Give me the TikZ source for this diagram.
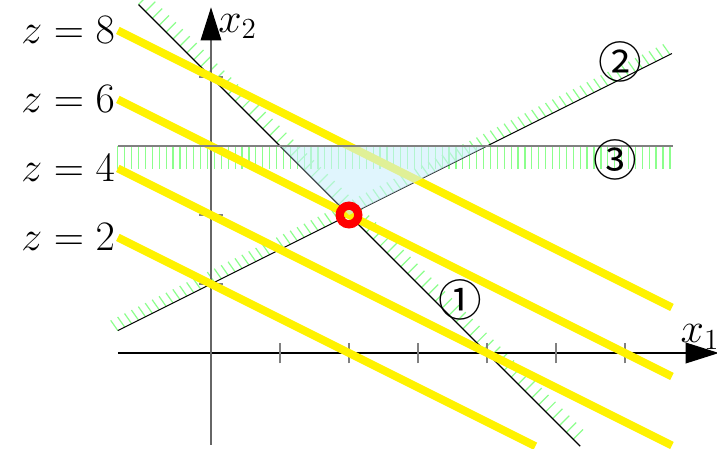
\documentclass[tikz,border=0pt]{standalone}
\usepackage{fontspec}
\newfontfamily\symfont{Noto Sans CJK JP}
\usetikzlibrary{arrows.meta}
\begin{document}
\begin{tikzpicture}[
  hatch/.style={draw=green!45, line width=0.5pt},
  bound/.style={draw=black, line width=0.45pt},
  objline/.style={draw=yellow, line width=3.3pt},
  axis/.style={line width=0.5pt, -{Triangle[length=0.48cm,width=0.3cm,color=black]}},
  tick/.style={draw=gray, line width=0.6pt},
  zlabel/.style={anchor=east, inner sep=1pt, font=\fontsize{16.5}{19}\selectfont},
  axlabel/.style={anchor=base west, inner sep=0pt, font=\fontsize{17}{20}\selectfont},
  circnum/.style={font=\symfont\fontsize{18}{20}\selectfont, inner sep=0pt}
]
\useasboundingbox (-3.058,-1.377) rectangle (7.333,5.116);
% hatching
\foreach \t in {-1.05,-0.95,...,5.35} { \draw[hatch] (\t,4-\t) -- ++(45:0.2); }
\foreach \t in {-1.35,-1.25,...,6.68} { \draw[hatch] (\t,0.5*\t+1) -- ++(125:0.18); }
\foreach \t in {-1.35,-1.25,...,6.7} { \draw[hatch] (\t,3) -- ++(0,-0.33); }
% constraint lines
\coordinate (c1a) at (-1.05,5.05);
\coordinate (c1b) at (5.35,-1.35);
\coordinate (c2a) at (-1.35,0.325);
\coordinate (c2b) at (6.68,4.34);
\coordinate (c3a) at (-1.35,3);
\coordinate (c3b) at (6.7,3);
\draw[bound] (c1a) -- (c1b);
\draw[bound] (c2a) -- (c2b);
% axes
\coordinate (xa) at (-1.35,0);
\coordinate (xb) at (7.36,0);
\coordinate (ya) at (0,-1.33);
\coordinate (yb) at (0,5.01);
\draw[axis, draw=black] (xa) -- (xb);
\draw[axis, draw=black!60] (ya) -- (yb);
\foreach \i in {1,...,6} { \draw[tick] (\i,-0.15) -- (\i,0.15); }
\foreach \j in {1,...,4} { \draw[tick] (-0.17,\j) -- (0.17,\j); }
\node[axlabel] (lx1) at (6.8,0.145) {$x_1$};
\node[axlabel] (lx2) at (0.1,4.652) {$x_2$};
% objective lines
\coordinate (z2a) at (-1.35,1.675); \coordinate (z2b) at (4.7,-1.35);
\coordinate (z4a) at (-1.35,2.675); \coordinate (z4b) at (6.68,-1.34);
\coordinate (z6a) at (-1.35,3.675); \coordinate (z6b) at (6.68,-0.34);
\coordinate (z8a) at (-1.35,4.675); \coordinate (z8b) at (6.68,0.66);
\draw[objline] (z2a) -- (z2b);
\draw[objline] (z4a) -- (z4b);
\draw[objline] (z6a) -- (z6b);
\draw[objline] (z8a) -- (z8b);
\node[zlabel] (l2) at (z2a) {$z=2$};
\node[zlabel] (l4) at (z4a) {$z=4$};
\node[zlabel] (l6) at (z6a) {$z=6$};
\node[zlabel] (l8) at (z8a) {$z=8$};
% feasible region
\fill[cyan!20, opacity=0.6] (1,3) -- (4,3) -- (2,2) -- cycle;
\draw[draw=gray, line width=0.9pt] (c3a) -- (c3b);
% optimum
\coordinate (opt) at (2,2);
\draw[red, line width=3.4pt] (opt) circle (0.135);
% labels
\node[circnum] (n1) at (3.61,0.77) {①};
\node[circnum] (n2) at (5.93,4.22) {②};
\node[circnum] (n3) at (5.86,2.80) {③};
\end{tikzpicture}
\end{document}
